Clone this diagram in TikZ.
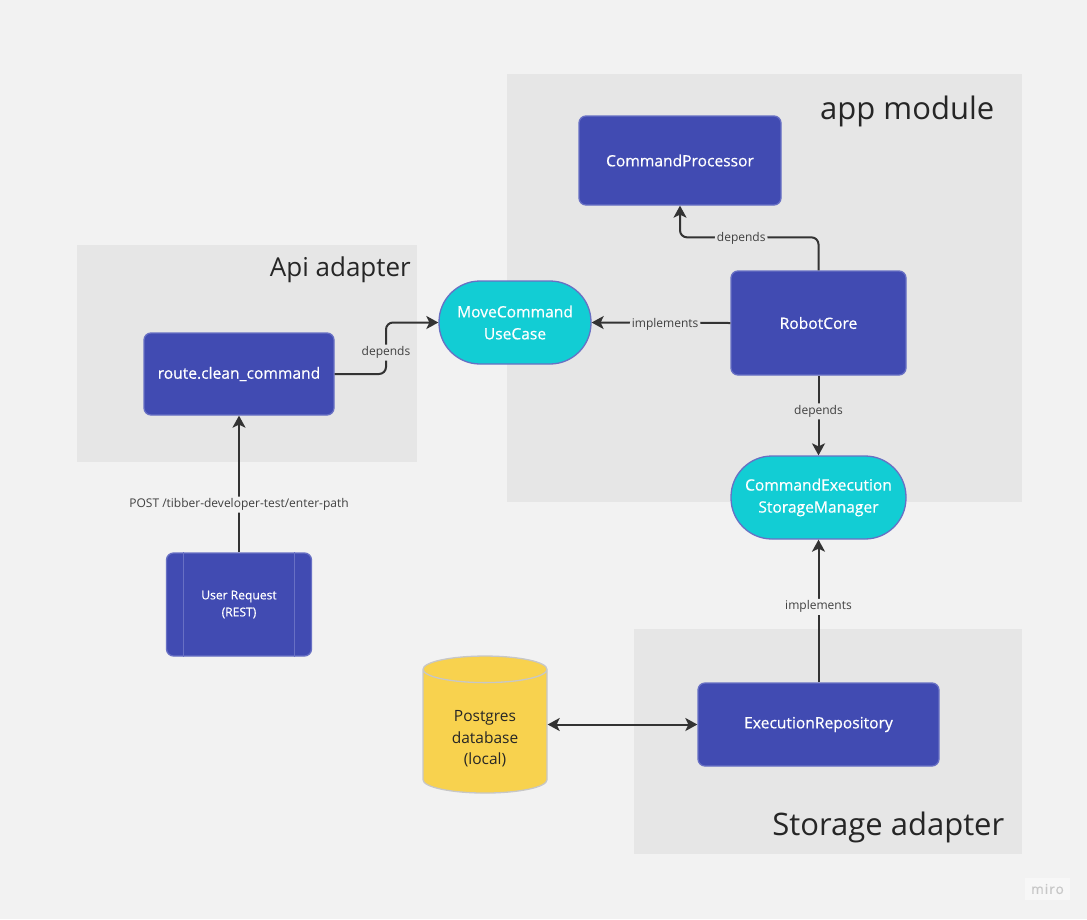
\documentclass[tikz,border=0pt]{standalone}
\usepackage{fontspec}
\setmainfont{Open Sans}
\newfontfamily\blockfont[FakeBold=0.6]{Open Sans}
\newfontfamily\badgefont[FakeBold=0.5,LetterSpace=8]{Open Sans}
\usetikzlibrary{shapes.geometric, arrows.meta}
\definecolor{pagegrey}{HTML}{F2F2F2}
\definecolor{panelgrey}{HTML}{E6E6E6}
\definecolor{boxblue}{HTML}{414BB2}
\definecolor{boxedge}{HTML}{6870C4}
\definecolor{usecyan}{HTML}{12CDD4}
\definecolor{dbyellow}{HTML}{F8D24E}
\definecolor{lineink}{HTML}{333333}
\tikzstyle{arrow} = [line width=2pt,draw=lineink,-{Stealth[length=12pt,width=13pt,inset=3pt]},rounded corners=7pt]
\tikzstyle{panel} = [fill=panelgrey,draw=none]
\tikzstyle{paneltitle} = [text=black!85,inner sep=0pt,anchor=base east]
\tikzstyle{blockbox} = [draw=boxedge,line width=1.3pt,fill=boxblue,text=white,rounded corners=7pt,inner sep=0pt,align=center,font=\blockfont\fontsize{15.6}{22}\selectfont]
\tikzstyle{portbox} = [draw=boxedge,line width=1.3pt,fill=usecyan,text=white,rounded corners=41pt,inner sep=0pt,align=center,font=\blockfont\fontsize{15.6}{22}\selectfont]
\tikzstyle{conlabel} = [fill=panelgrey,text=black!75,inner sep=2pt,yshift=-1.5pt,font=\fontsize{12}{14}\selectfont]
\begin{document}
\begin{tikzpicture}[x=1pt,y=-1pt]
\useasboundingbox[fill=pagegrey] (0,0) rectangle (1087,919);

% module backgrounds
\draw[panel] (507,74) rectangle (1022,502);
\draw[panel] (77,245) rectangle (417,462);
\draw[panel] (634,629) rectangle (1022,854);
\node[paneltitle,font=\fontsize{31}{36}\selectfont] (apptitle) at (994.5,119) {app module};
\node[paneltitle,font=\fontsize{26}{32}\selectfont] (apititle) at (411,276) {Api adapter};
\node[paneltitle,font=\fontsize{31}{36}\selectfont] (storetitle) at (1004.5,835) {Storage adapter};

% blocks
\node[blockbox,minimum width=202pt,minimum height=89pt] (processor) at (680,160.5) {CommandProcessor};
\node[blockbox,minimum width=175pt,minimum height=104pt] (robot) at (818.5,323) {RobotCore};
\node[blockbox,minimum width=190pt,minimum height=82pt] (route) at (239,374) {route.clean\_command};
\node[blockbox,minimum width=241pt,minimum height=83pt] (repo) at (818.5,724.5) {ExecutionRepository};
\node[blockbox,minimum width=145pt,minimum height=103pt,font=\blockfont\fontsize{12.1}{17}\selectfont] (request) at (239,604.5) {User Request\\(REST)};
\draw[boxedge,line width=1pt] ([xshift=18pt]request.north west) -- ([xshift=18pt]request.south west);
\draw[boxedge,line width=1pt] ([xshift=-18pt]request.north east) -- ([xshift=-18pt]request.south east);

% ports
\node[portbox,minimum width=152pt,minimum height=83pt] (usecase) at (515,322.5) {MoveCommand\\UseCase};
\node[portbox,minimum width=175pt,minimum height=83pt] (manager) at (818.5,497.5) {CommandExecution\\StorageManager};

% database
\node[cylinder,shape border rotate=90,aspect=0.4,draw=black!22,line width=1.3pt,fill=dbyellow,text=black!85,
  minimum width=124pt,minimum height=137pt,inner sep=0pt,align=center,font=\fontsize{15.5}{21.5}\selectfont] (db) at (485,731.5) {\rule{0pt}{26pt}Postgres\\database\\(local)};

% connectors
\draw[arrow] (route.east) -| (386,351) node[conlabel] (routedep) {depends} |- (usecase.west);
\draw[arrow] (robot.west) -- node[conlabel,pos=0.47] (robotimpl) {implements} (usecase.east);
\draw[arrow] (robot.north) -- ++(0,-33) -| node[conlabel,pos=0.279] (robotdep) {depends} (processor.south);
\draw[arrow] (robot.south) -- node[conlabel,pos=0.43] (robotstore) {depends} (manager.north);
\draw[arrow] (repo.north) -- node[conlabel,fill=pagegrey,pos=0.54] (repoimpl) {implements} (manager.south);
\draw[arrow] (request.north) -- node[conlabel,fill=pagegrey,pos=0.36] (post) {POST /tibber-developer-test/enter-path} (route.south);
\draw[arrow,{Stealth[length=12pt,width=13pt,inset=3pt]}-{Stealth[length=12pt,width=13pt,inset=3pt]}] (db.east |- repo.west) -- (repo.west);

% badge
\node[fill=white!40!pagegrey,text=black!22,minimum width=45pt,minimum height=22pt,inner sep=0pt,font=\badgefont\fontsize{13.5}{15}\selectfont] (badge) at (1047.5,889) {miro};
\end{tikzpicture}
\end{document}
